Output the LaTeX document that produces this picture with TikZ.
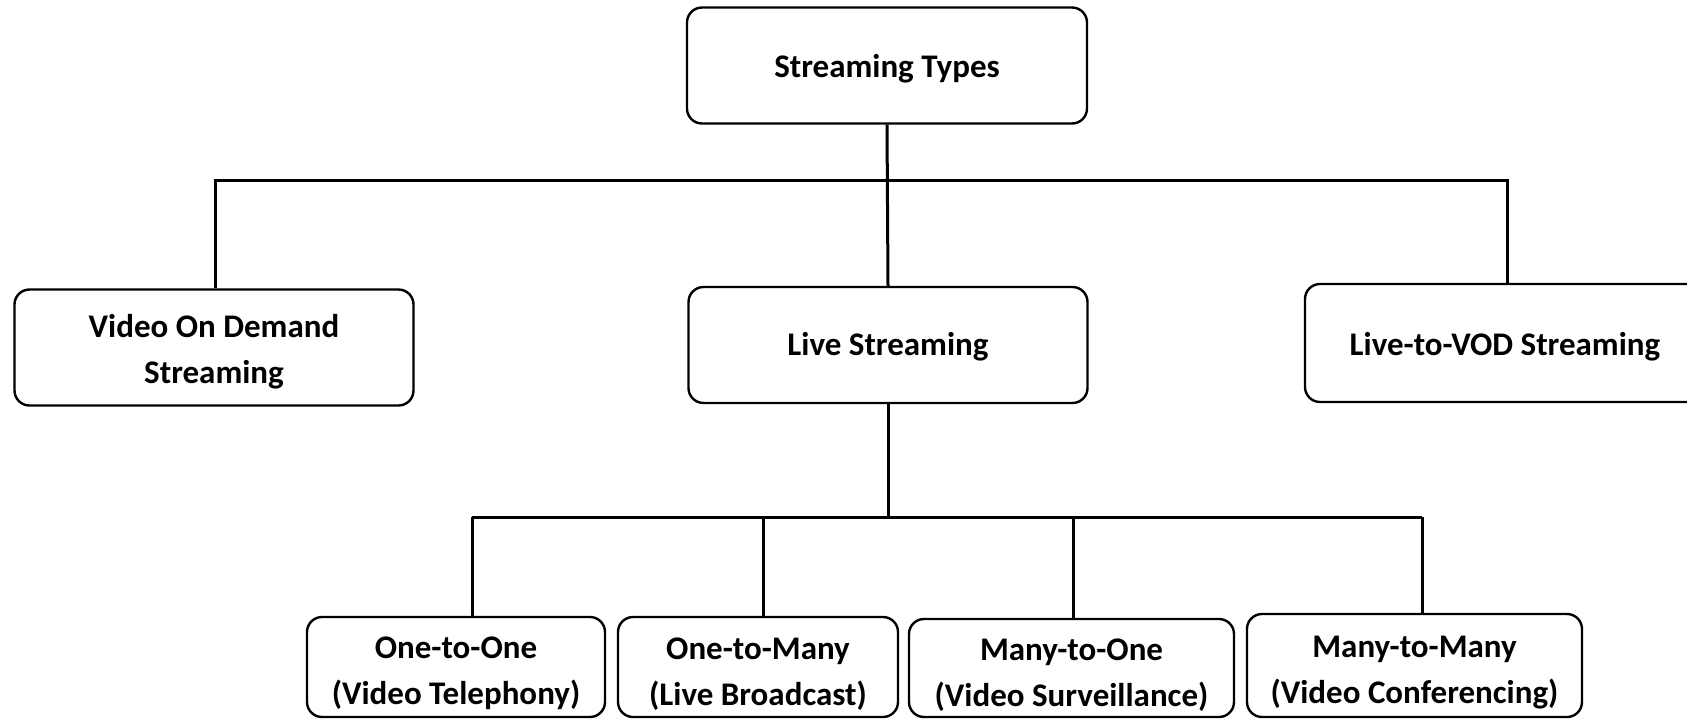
\documentclass[tikz,border=0pt]{standalone}
\usepackage{fontspec}
\setmainfont{Carlito}
% invisible strut that lowers the first text line inside a box
\newcommand{\lowerby}[1]{\rule{0pt}{#1}}
\begin{document}
\begin{tikzpicture}[x=1pt,y=-1pt,
  box/.style={draw=black,line width=2.4pt,rounded corners=15pt,align=center,
    font=\fontsize{33}{46}\selectfont\bfseries,inner sep=0pt},
  link/.style={draw=black,line width=3pt}]
\useasboundingbox (0,0) rectangle (1687,718);
\clip (0,0) rectangle (1687,718);
% upper level
\node[box,minimum width=400pt,minimum height=116pt] (top) at (887,65.5) {\lowerby{29pt}Streaming Types};
\node[box,minimum width=399pt,minimum height=116pt] (vod) at (214,347.5) {\lowerby{32pt}Video On Demand\\Streaming};
\node[box,minimum width=399pt,minimum height=116pt] (live) at (888,345) {\lowerby{27pt}Live Streaming};
\node[box,minimum width=400pt,minimum height=118pt] (l2v) at (1505,343) {\lowerby{31pt}Live-to-VOD Streaming};
% lower level
\node[box,minimum width=298pt,minimum height=100pt] (oo) at (456,667) {\lowerby{35pt}One-to-One\\(Video Telephony)};
\node[box,minimum width=280pt,minimum height=100pt] (om) at (758,667) {\lowerby{35pt}One-to-Many\\(Live Broadcast)};
\node[box,minimum width=325pt,minimum height=98pt] (mo) at (1071.5,668) {\lowerby{35pt}Many-to-One\\(Video Surveillance)};
\node[box,minimum width=335pt,minimum height=103pt] (mm) at (1414.5,665.5) {\lowerby{35pt}Many-to-Many\\(Video Conferencing)};
% upper bus
\coordinate (tb) at (888,180);
\coordinate (tl) at (215,180);
\coordinate (tr) at (1507,180);
\draw[link] (top.south) -- (live.north);
\draw[link] (tl |- vod.north) -- (tl) -- (tr) -- (tr |- l2v.north);
% lower bus
\coordinate (b0) at (888,517);
\coordinate (b1) at (472,517);
\coordinate (b2) at (763,517);
\coordinate (b3) at (1073,517);
\coordinate (b4) at (1422,517);
\draw[link] (live.south) -- (b0);
\draw[link] (b1) -- (b4);
\draw[link] (b1) -- (b1 |- oo.north);
\draw[link] (b2) -- (b2 |- om.north);
\draw[link] (b3) -- (b3 |- mo.north);
\draw[link] (b4) -- (b4 |- mm.north);
\end{tikzpicture}
\end{document}
